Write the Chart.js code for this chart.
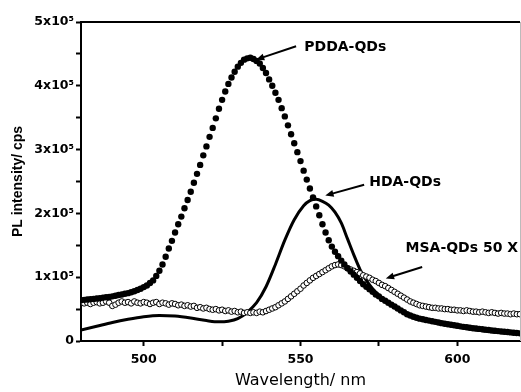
<!DOCTYPE html>
<html>
<head>
<meta charset="utf-8">
<script src="https://cdn.jsdelivr.net/npm/chart.js@4.4.1/dist/chart.umd.min.js"></script>
<style>
  html, body { margin: 0; padding: 0; background: #fff; }
</style>
</head>
<body>
<canvas id="chart" width="521" height="392"></canvas>
<script>
// PL spectra, intensity in units of 1x10^5 cps
const wavelengths = Array.from({ length: 141 }, (_, i) => 480 + i)

const pddaQDs = [
  0.64, 0.645, 0.65, 0.655, 0.66, 0.665, 0.67, 0.68, 0.685, 0.69,
  0.70, 0.71, 0.72, 0.73, 0.74, 0.75, 0.765, 0.78, 0.80, 0.82,
  0.845, 0.87, 0.91, 0.95, 1.02, 1.10, 1.20, 1.32, 1.45, 1.57,
  1.70, 1.83, 1.95, 2.08, 2.21, 2.34, 2.48, 2.62, 2.76, 2.91,
  3.05, 3.20, 3.34, 3.49, 3.64, 3.78, 3.91, 4.03, 4.13, 4.22,
  4.30, 4.36, 4.41, 4.43, 4.44, 4.42, 4.39, 4.35, 4.28, 4.20,
  4.10, 4.00, 3.89, 3.78, 3.65, 3.52, 3.38, 3.24, 3.10, 2.96,
  2.82, 2.67, 2.53, 2.39, 2.25, 2.11, 1.97, 1.83, 1.70, 1.58,
  1.48, 1.40, 1.33, 1.26, 1.20, 1.14, 1.09, 1.04, 0.99, 0.94,
  0.89, 0.85, 0.81, 0.77, 0.73, 0.70, 0.66, 0.63, 0.60, 0.57,
  0.54, 0.51, 0.48, 0.45, 0.42, 0.40, 0.38, 0.365, 0.35, 0.34,
  0.33, 0.32, 0.31, 0.30, 0.29, 0.28, 0.27, 0.262, 0.254, 0.246,
  0.238, 0.23, 0.222, 0.215, 0.208, 0.20, 0.195, 0.19, 0.184, 0.178,
  0.172, 0.166, 0.16, 0.155, 0.15, 0.145, 0.14, 0.135, 0.13, 0.125,
  0.12
]

const msaQDs = [
  0.60, 0.59, 0.60, 0.58, 0.60, 0.61, 0.59, 0.60, 0.62, 0.60,
  0.55, 0.57, 0.60, 0.62, 0.60, 0.61, 0.59, 0.62, 0.60, 0.59,
  0.61, 0.60, 0.58, 0.60, 0.61, 0.58, 0.60, 0.59, 0.57, 0.59,
  0.58, 0.56, 0.57, 0.55, 0.56, 0.54, 0.55, 0.52, 0.53, 0.51,
  0.52, 0.50, 0.49, 0.50, 0.48, 0.49, 0.47, 0.48, 0.46, 0.47,
  0.45, 0.46, 0.44, 0.45, 0.44, 0.45, 0.44, 0.46, 0.45, 0.47,
  0.49, 0.51, 0.53, 0.56, 0.59, 0.62, 0.66, 0.70, 0.74, 0.78,
  0.82, 0.87, 0.91, 0.95, 0.99, 1.02, 1.05, 1.08, 1.11, 1.14,
  1.17, 1.19, 1.20, 1.19, 1.17, 1.14, 1.12, 1.10, 1.08, 1.06,
  1.03, 1.01, 0.99, 0.96, 0.94, 0.91, 0.88, 0.86, 0.83, 0.80,
  0.77, 0.74, 0.71, 0.68, 0.65, 0.62, 0.60, 0.58, 0.56, 0.55,
  0.54, 0.53, 0.52, 0.52, 0.51, 0.51, 0.50, 0.50, 0.49, 0.49,
  0.48, 0.48, 0.47, 0.48, 0.47, 0.46, 0.46, 0.45, 0.46, 0.45,
  0.44, 0.45, 0.44, 0.43, 0.44, 0.43, 0.43, 0.42, 0.43, 0.42,
  0.42
]

const hdaWavelengths = [
  480, 485, 490, 495, 500, 505, 510, 515, 520, 524, 527, 530, 533, 536, 539,
  542, 545, 548, 551, 553, 555, 557, 559, 561, 563, 565, 567, 569, 571, 573,
  575, 578, 580, 585, 590, 595, 600, 605, 610, 615, 620
]
const hdaQDs = [
  0.17, 0.23, 0.29, 0.34, 0.38, 0.40, 0.39, 0.36, 0.32, 0.30, 0.31, 0.35, 0.45, 0.60, 0.85,
  1.20, 1.58, 1.90, 2.12, 2.20, 2.22, 2.19, 2.13, 2.02, 1.85, 1.60, 1.35, 1.12, 0.95, 0.82,
  0.72, 0.60, 0.53, 0.41, 0.33, 0.27, 0.22, 0.18, 0.15, 0.13, 0.11
]

const xTicks = [500, 525, 550, 575, 600]
const yTicks = [0, 0.5, 1, 1.5, 2, 2.5, 3, 3.5, 4, 4.5, 5]

const notes = [
  { text: 'PDDA-QDs', at: [551.2, 4.6], from: [548.6, 4.62], to: [535.8, 4.41] },
  { text: 'HDA-QDs', at: [571.9, 2.48], from: [570.3, 2.45], to: [557.9, 2.28] },
  { text: 'MSA-QDs 50 X', at: [583.5, 1.45], from: [588.8, 1.16], to: [577.2, 0.98] }
]

const sup = { 0: '⁰', 1: '¹', 2: '²', 3: '³', 4: '⁴', 5: '⁵' }

function toPoints(xs, ys) {
  return xs.map((x, i) => ({ x: x, y: ys[i] }))
}

function arrow(ctx, x1, y1, x2, y2) {
  const ang = Math.atan2(y2 - y1, x2 - x1)
  const len = 9
  ctx.beginPath()
  ctx.moveTo(x1, y1)
  ctx.lineTo(x2 - Math.cos(ang) * len * 0.8, y2 - Math.sin(ang) * len * 0.8)
  ctx.stroke()
  ctx.beginPath()
  ctx.moveTo(x2, y2)
  ctx.lineTo(x2 - len * Math.cos(ang - 0.4), y2 - len * Math.sin(ang - 0.4))
  ctx.lineTo(x2 - len * Math.cos(ang + 0.4), y2 - len * Math.sin(ang + 0.4))
  ctx.closePath()
  ctx.fill()
}

// top frame line + labels with arrows
const annotate = {
  id: 'annotate',
  afterDraw(chart) {
    const { ctx, chartArea: a, scales: { x, y } } = chart
    ctx.save()
    ctx.strokeStyle = '#000'
    ctx.lineWidth = 2
    ctx.beginPath()
    ctx.moveTo(a.left, a.top)
    ctx.lineTo(a.right, a.top)
    ctx.stroke()
    ctx.strokeStyle = '#bbb'
    ctx.lineWidth = 1
    ctx.beginPath()
    ctx.moveTo(a.right + 0.5, a.top)
    ctx.lineTo(a.right + 0.5, a.bottom)
    ctx.stroke()

    ctx.fillStyle = '#000'
    ctx.strokeStyle = '#000'
    ctx.lineWidth = 2
    ctx.font = 'bold 14px "DejaVu Sans"'
    ctx.textBaseline = 'middle'
    ctx.textAlign = 'left'
    notes.forEach(n => {
      ctx.fillText(n.text, x.getPixelForValue(n.at[0]), y.getPixelForValue(n.at[1]))
      arrow(ctx,
        x.getPixelForValue(n.from[0]), y.getPixelForValue(n.from[1]),
        x.getPixelForValue(n.to[0]), y.getPixelForValue(n.to[1]))
    })
    ctx.restore()
  }
}

const tickFont = { family: 'DejaVu Sans', size: 12.5, weight: 'bold' }

new Chart(document.getElementById('chart'), {
  type: 'scatter',
  data: {
    datasets: [
      {
        label: 'PDDA-QDs',
        data: toPoints(wavelengths, pddaQDs),
        showLine: false,
        pointRadius: 3.2,
        pointBackgroundColor: '#000',
        pointBorderWidth: 0,
        order: 1
      },
      {
        label: 'MSA-QDs 50 X',
        data: toPoints(wavelengths, msaQDs),
        showLine: false,
        pointRadius: 2.8,
        pointBackgroundColor: '#fff',
        pointBorderColor: '#000',
        pointBorderWidth: 1,
        order: 2
      },
      {
        label: 'HDA-QDs',
        data: toPoints(hdaWavelengths, hdaQDs),
        showLine: true,
        borderColor: '#000',
        borderWidth: 3,
        pointRadius: 0,
        cubicInterpolationMode: 'monotone',
        order: 3
      }
    ]
  },
  options: {
    responsive: false,
    animation: false,
    layout: { autoPadding: false, padding: { top: 22, right: 1, left: 0, bottom: 0 } },
    plugins: {
      legend: { display: false },
      tooltip: { enabled: false }
    },
    scales: {
      x: {
        type: 'linear',
        min: 480,
        max: 620,
        afterBuildTicks: scale => { scale.ticks = xTicks.map(v => ({ value: v })) },
        afterFit: scale => {
          scale.height = 51
          scale.paddingLeft = 0
          scale.paddingRight = 0
        },
        border: { color: '#000', width: 2 },
        grid: { drawOnChartArea: false, tickLength: 5, tickColor: '#000', tickWidth: 2 },
        ticks: {
          color: '#000',
          font: tickFont,
          padding: 6,
          maxRotation: 0,
          callback: v => (v % 50 === 0 ? String(v) : '')
        },
        title: {
          display: true,
          text: 'Wavelength/ nm',
          color: '#000',
          font: { family: 'DejaVu Sans', size: 16 },
          padding: { top: 2, bottom: 2 }
        }
      },
      y: {
        min: 0,
        max: 5,
        afterBuildTicks: scale => { scale.ticks = yTicks.map(v => ({ value: v })) },
        afterFit: scale => {
          scale.width = 81
          scale.paddingTop = 0
          scale.paddingBottom = 0
        },
        border: { color: '#000', width: 2 },
        grid: { drawOnChartArea: false, tickLength: 5, tickColor: '#000', tickWidth: 2 },
        ticks: {
          color: '#000',
          font: tickFont,
          padding: 2,
          callback: v => (v === 0 ? '0' : Number.isInteger(v) ? v + 'x10' + sup[5] : '')
        },
        title: {
          display: true,
          text: 'PL intensity/ cps',
          color: '#000',
          font: { family: 'Liberation Sans', size: 14, weight: 'bold' },
          padding: { top: 10, bottom: 4 }
        }
      }
    }
  },
  plugins: [annotate]
})
</script>
</body>
</html>
